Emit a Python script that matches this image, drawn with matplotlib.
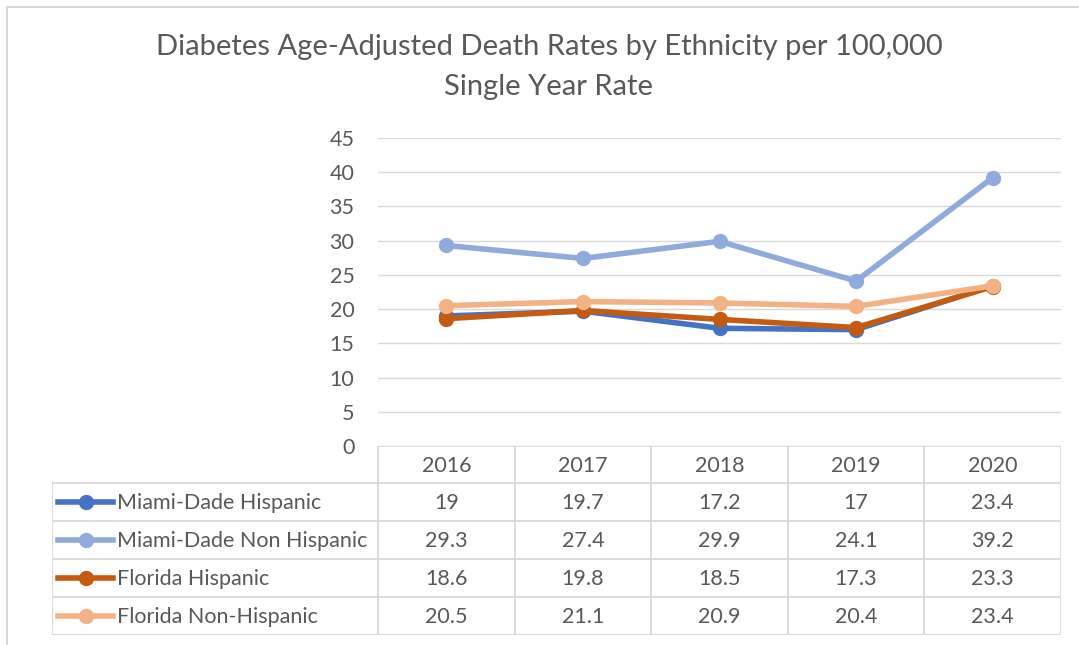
import matplotlib.pyplot as plt
from matplotlib.lines import Line2D

years = ['2016', '2017', '2018', '2019', '2020']
series = ['Miami-Dade Hispanic', 'Miami-Dade Non Hispanic',
          'Florida Hispanic', 'Florida Non-Hispanic']
md_hisp = [19, 19.7, 17.2, 17, 23.4]
md_nonhisp = [29.3, 27.4, 29.9, 24.1, 39.2]
fl_hisp = [18.6, 19.8, 18.5, 17.3, 23.3]
fl_nonhisp = [20.5, 21.1, 20.9, 20.4, 23.4]
values = [md_hisp, md_nonhisp, fl_hisp, fl_nonhisp]
colors = ['#4472C4', '#8FAADC', '#C55A11', '#F4B183']

plt.rcParams['font.family'] = ['Lato', 'DejaVu Sans']
txt = '#595959'
grid = '#D9D9D9'
fs = 15.5

W, H = 1079, 645
fig = plt.figure(figsize=(W / 100, H / 100), dpi=100)

# chart border (only top and left are visible in the crop)
fig.add_artist(Line2D([6.5 / W, 6.5 / W], [0, 1 - 6.5 / H], color=grid,
                      lw=1.5, transform=fig.transFigure))
fig.add_artist(Line2D([6.5 / W, 1], [1 - 6.5 / H, 1 - 6.5 / H], color=grid,
                      lw=1.5, transform=fig.transFigure))

fig.text(549 / W, 1 - 47 / H, 'Diabetes Age-Adjusted Death Rates by Ethnicity per 100,000',
         ha='center', va='center', fontsize=21, color=txt)
fig.text(549 / W, 1 - 87 / H, 'Single Year Rate',
         ha='center', va='center', fontsize=21, color=txt)

# plot area
x0, x1, ytop, ybot = 378, 1061, 138, 446
ax = fig.add_axes([x0 / W, 1 - ybot / H, (x1 - x0) / W, (ybot - ytop) / H])
ax.set_xlim(-0.5, len(years) - 0.5)
ax.set_ylim(0, 45)
ax.set_yticks(range(0, 46, 5))
ax.set_xticks([])
for s in ax.spines.values():
    s.set_visible(False)
ax.yaxis.grid(True, color=grid, linewidth=1)
ax.set_axisbelow(True)
ax.tick_params(axis='y', length=0, labelsize=fs, labelcolor=txt, pad=17)
xs = list(range(len(years)))
for vals, c in zip(values, colors):
    ax.plot(xs, vals, color=c, linewidth=4, marker='o', markersize=10,
            solid_capstyle='round')

# data table
tx0, ty0, ty1 = 52, 446, 635
tab = fig.add_axes([tx0 / W, 1 - ty1 / H, (x1 - tx0) / W, (ty1 - ty0) / H])
tab.set_xlim(tx0, x1)
tab.set_ylim(ty1, ty0)
tab.axis('off')
rows = [446, 483, 521, 559, 597, 635]
colw = (x1 - x0) / len(years)
cols = [x0 + i * colw for i in range(len(years) + 1)]
lw = 1.3
tab.plot([x0, x1], [rows[0], rows[0]], color=grid, lw=lw)
for r in rows[1:]:
    tab.plot([tx0, x1], [r, r], color=grid, lw=lw)
tab.plot([tx0, tx0], [rows[1], rows[-1]], color=grid, lw=lw)
for c in cols:
    tab.plot([c, c], [rows[0], rows[-1]], color=grid, lw=lw)

for i, y in enumerate(years):
    tab.text(cols[i] + colw / 2, (rows[0] + rows[1]) / 2 + 1, y, ha='center',
             va='center', fontsize=fs, color=txt)
for j, (name, vals, c) in enumerate(zip(series, values, colors)):
    yc = (rows[j + 1] + rows[j + 2]) / 2
    tab.add_line(Line2D([58, 113], [yc, yc], color=c, lw=4))
    tab.plot([86], [yc], marker='o', markersize=10, color=c)
    tab.text(117, yc + 1, name, ha='left', va='center', fontsize=fs, color=txt)
    for i, v in enumerate(vals):
        tab.text(cols[i] + colw / 2, yc + 1, f'{v:g}', ha='center', va='center',
                 fontsize=fs, color=txt)

fig.savefig('out.png', dpi=100, facecolor='white')
